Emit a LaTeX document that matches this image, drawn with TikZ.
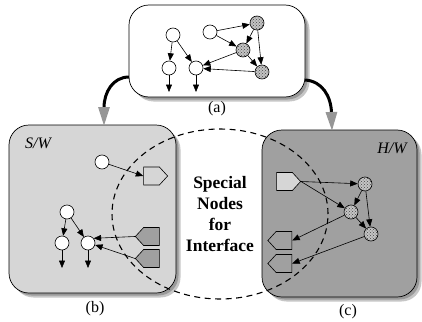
\documentclass[tikz,border=0pt]{standalone}
\usepackage{fontspec}
\setmainfont{Liberation Serif}
\usetikzlibrary{arrows.meta,shapes.geometric,shapes.symbols,patterns,shadows}
\definecolor{swfill}{RGB}{214,214,214}
\definecolor{hwfill}{RGB}{160,160,160}
\definecolor{dotfill}{RGB}{196,196,196}
\definecolor{bigtip}{RGB}{150,150,150}
\begin{document}
\begin{tikzpicture}[x=1pt,y=-1pt,
  panel/.style={draw, line width=0.7pt, rounded corners=20pt, inner sep=0pt,
    drop shadow={shadow xshift=4.5pt, shadow yshift=-4.5pt, fill=gray!45, opacity=1},
    drop shadow={shadow xshift=2.5pt, shadow yshift=-2.5pt, fill=gray!80, opacity=1}},
  wnode/.style={circle, draw, fill=white, minimum size=14pt, inner sep=0pt, line width=0.6pt},
  hnode/.style={circle, draw, fill=dotfill, minimum size=14pt, inner sep=0pt, line width=0.6pt,
    postaction={pattern=crosshatch dots, pattern color=gray!55!black}},
  portout/.style={signal, signal to=east, signal from=nowhere, signal pointer angle=95,
    draw, line width=0.6pt, minimum width=24pt, minimum height=18pt, inner sep=0pt},
  portin/.style={signal, signal to=west, signal from=nowhere, signal pointer angle=95,
    draw, line width=0.6pt, minimum width=24pt, minimum height=18pt, inner sep=0pt},
  arr/.style={line width=0.6pt, -{Triangle[length=7.5pt,width=6pt]}},
  bigarr/.style={line width=3pt, -{Triangle[length=19pt,width=11pt,color=bigtip]}},
  lbl/.style={font=\fontsize{16}{18}\selectfont},
  side/.style={font=\itshape\fontsize{16}{18}\selectfont}
]
\useasboundingbox (0,0) rectangle (422,321);

% three panels
\node[panel, fill=white, minimum width=176pt, minimum height=92pt] (boxa) at (217,51) {};
\node[panel, fill=swfill, minimum width=167pt, minimum height=168pt] (boxb) at (92.5,209) {};
\node[panel, fill=hwfill, minimum width=155pt, minimum height=167pt] (boxc) at (339.5,213.5) {};

\node[lbl] (la) at (217,109) {(a)};
\node[lbl] (lb) at (95,309) {(b)};
\node[lbl] (lc) at (348,312) {(c)};
\node[side] (sw) at (38,143) {S/W};
\node[side] (hw) at (392,148) {H/W};

% interface region
\node[ellipse, draw, line width=1.1pt, dash pattern=on 6pt off 4.5pt,
  minimum width=216pt, minimum height=170pt, inner sep=0pt, align=center,
  font=\bfseries\fontsize{17.5}{21}\selectfont] (iface) at (220,214) {Special\\Nodes\\for\\Interface};

% partitioning arrows
\coordinate (sa) at (129,77);
\coordinate (sb) at (104,126);
\coordinate (sc) at (305,80);
\coordinate (sd) at (332,131);
\draw[bigarr] (sa) .. controls (113,77) and (104,92) .. (sb);
\draw[bigarr] (sc) .. controls (322,81) and (331,96) .. (sd);

% (a) original graph
\node[wnode] (n1) at (173,35) {};
\node[wnode] (n2) at (210,32) {};
\node[hnode] (h1) at (257,23) {};
\node[hnode] (h2) at (243,50) {};
\node[hnode] (h3) at (262,72) {};
\node[wnode] (n3) at (169,68) {};
\node[wnode] (n4) at (196,68) {};
\coordinate (n3e) at (169,92);
\coordinate (n4e) at (196,92);
\draw[arr] (n1) -- (n3);
\draw[arr] (n1) -- (n4);
\draw[arr] (n2) -- (h1);
\draw[arr] (n2) -- (h2);
\draw[arr] (h1) -- (h2);
\draw[arr] (h1) -- (h3);
\draw[arr] (h2) -- (h3);
\draw[arr] (h2) -- (n4);
\draw[arr] (h3) -- (n4.-5);
\draw[arr] (n3) -- (n3e);
\draw[arr] (n4) -- (n4e);

% (b) software part
\node[wnode] (w1) at (102,162) {};
\node[portout, fill=swfill] (p1) at (151.5,176) {};
\node[wnode] (w2) at (67,212) {};
\node[wnode] (w3) at (62,243) {};
\node[wnode] (w4) at (88,243) {};
\node[portin, fill=hwfill] (p2) at (151.5,236.5) {};
\node[portin, fill=hwfill] (p3) at (151.5,258.5) {};
\coordinate (w3e) at (62,268);
\coordinate (w4e) at (88,268);
\draw[arr] (w1) -- (p1.west);
\draw[arr] (w2) -- (w3);
\draw[arr] (w2) -- (w4);
\draw[arr] (w3) -- (w3e);
\draw[arr] (w4) -- (w4e);
\draw[arr] (p2.west) -- (w4.40);
\draw[arr] (p3.west) -- (w4.-15);

% (c) hardware part
\node[portout, fill=swfill] (q1) at (284.5,181.5) {};
\node[hnode] (g1) at (365,184) {};
\node[hnode] (g2) at (351,212) {};
\node[hnode] (g3) at (371,234) {};
\node[portin, fill=hwfill] (q2) at (284,240.5) {};
\node[portin, fill=hwfill] (q3) at (284,263.5) {};
\draw[arr] (q1.east) -- (g1);
\draw[arr] (q1.east) -- (g2);
\draw[arr] (g1) -- (g2);
\draw[arr] (g1) -- (g3);
\draw[arr] (g2) -- (g3);
\draw[arr] (g2) -- (q2.east);
\draw[arr] (g3) -- (q3.east);
\end{tikzpicture}
\end{document}
